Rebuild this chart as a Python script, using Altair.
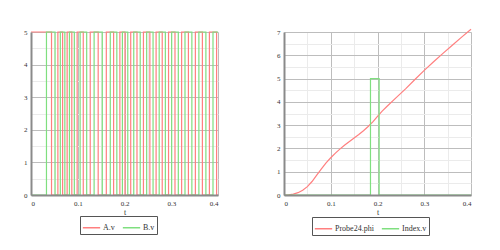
import altair as alt
import pandas as pd

# ---- data ----
# Left panel: quadrature encoder signals, toggle times (s)
a_start = 5
a_edges = [0.0439, 0.0575, 0.0676, 0.0773, 0.0873, 0.0987, 0.1118, 0.1267, 0.1437,
           0.1611, 0.1767, 0.1901, 0.2010, 0.2133, 0.2267, 0.2405, 0.2543, 0.2676,
           0.2807, 0.2942, 0.3080, 0.3222, 0.3367, 0.3516, 0.3666, 0.3816, 0.3970]
b_start = 0
b_edges = [0.0331, 0.0515, 0.0627, 0.0724, 0.0822, 0.0927, 0.1051, 0.1191, 0.1350,
           0.1525, 0.1696, 0.1836, 0.1955, 0.2070, 0.2198, 0.2336, 0.2474, 0.2611,
           0.2742, 0.2874, 0.3009, 0.3151, 0.3294, 0.3441, 0.3591, 0.3741, 0.3893]

# Right panel: angle curve and index pulse
phi_t = [0, 0.01, 0.02, 0.03, 0.04, 0.05, 0.06, 0.07, 0.08, 0.09, 0.10, 0.11, 0.12,
         0.13, 0.14, 0.15, 0.16, 0.17, 0.18, 0.19, 0.20, 0.21, 0.22, 0.24, 0.26,
         0.28, 0.30, 0.32, 0.34, 0.36, 0.38, 0.40]
phi_v = [0, 0.01, 0.04, 0.10, 0.20, 0.36, 0.58, 0.85, 1.12, 1.38, 1.60, 1.80, 1.98,
         2.15, 2.30, 2.45, 2.60, 2.76, 2.94, 3.14, 3.38, 3.60, 3.80, 4.18, 4.56,
         4.96, 5.35, 5.72, 6.08, 6.43, 6.78, 7.12]
idx_start = 0
idx_edges = [0.185, 0.2035]
HIGH = 5
T_END = 0.4

left_series = ["A.v", "B.v"]
right_series = ["Probe24.phi", "Index.v"]
RED = "#ff7f7f"
GREEN = "#7fdf7f"

X_TICKS = [0, 0.05, 0.1, 0.15, 0.2, 0.25, 0.3, 0.35, 0.4]
X_LABELS = [0, 0.1, 0.2, 0.3, 0.4]


def square(name, start, edges):
    ts, vs = [0.0], [start]
    v = start
    for e in edges:
        nv = HIGH if v == 0 else 0
        ts += [e, e]
        vs += [v, nv]
        v = nv
    ts.append(T_END)
    vs.append(v)
    return pd.DataFrame({"t": ts, "v": vs, "series": name, "i": range(len(ts))})


left_df = pd.concat([square("A.v", a_start, a_edges), square("B.v", b_start, b_edges)])
right_df = pd.concat([
    pd.DataFrame({"t": phi_t, "v": phi_v, "series": "Probe24.phi", "i": range(len(phi_t))}),
    square("Index.v", idx_start, idx_edges),
])

FONT = "Liberation Serif"
W, H = 187, 163
MAJOR = "#bdbdbd"
MINOR = "#ebebeb"


def panel(df, series, y_ticks, y_labels, lx, ly):
    xs = alt.Scale(domain=[0, 0.4], nice=False, zero=False)
    ys = alt.Scale(domain=[0, max(y_labels)], nice=False)
    grid = alt.Chart(df).mark_line(opacity=0).encode(
        x=alt.X("t:Q", scale=xs, axis=alt.Axis(
            orient="top", values=X_TICKS, labels=False, ticks=False, domain=False,
            grid=True, title=None, minExtent=0, maxExtent=0,
            gridColor={"condition": {"test": "abs(datum.value*10 - round(datum.value*10)) < 0.001",
                                     "value": MAJOR}, "value": MINOR})),
        y=alt.Y("v:Q", scale=ys, axis=alt.Axis(
            orient="right", values=y_ticks, labels=False, ticks=False, domain=False,
            grid=True, title=None, minExtent=0, maxExtent=0,
            gridColor={"condition": {"test": "abs(datum.value - round(datum.value)) < 0.001",
                                     "value": MAJOR}, "value": MINOR})),
    )
    lines = alt.Chart(df).mark_line(strokeWidth=1.2).encode(
        x=alt.X("t:Q", scale=xs, axis=alt.Axis(orient="bottom", values=X_LABELS, format="~g",
                                                grid=False, ticks=False, zindex=1,
                                                domainColor="#8a8a8a", domainWidth=2,
                                                labelFont=FONT, labelFontSize=7,
                                                labelColor="#333", labelPadding=4,
                                                title="t", titleFont=FONT, titleFontSize=8,
                                                titleFontWeight="normal", titleColor="#333",
                                                titlePadding=2)),
        y=alt.Y("v:Q", scale=ys, axis=alt.Axis(orient="left", values=y_labels, format="~g",
                                                grid=False, ticks=False, zindex=1,
                                                domainColor="#8a8a8a", domainWidth=2,
                                                labelFont=FONT, labelFontSize=7,
                                                labelColor="#333", labelPadding=4,
                                                title=None, minExtent=20, maxExtent=20)),
        color=alt.Color("series:N", sort=series,
                        scale=alt.Scale(domain=series, range=[RED, GREEN]),
                        legend=alt.Legend(title=None, orient="none", legendX=lx, legendY=ly,
                                          direction="horizontal", symbolType="stroke",
                                          symbolSize=300, symbolStrokeWidth=1.5,
                                          labelFont=FONT, labelFontSize=8,
                                          labelColor="#333", strokeColor="#555",
                                          padding=2, columnPadding=4, labelOffset=2)),
        order=alt.Order("i:Q"),
        detail="series:N",
    )
    return alt.layer(grid, lines).resolve_axis(x="independent", y="independent").properties(
        width=W, height=H)


left = panel(left_df, left_series,
             [0, 0.5, 1, 1.5, 2, 2.5, 3, 3.5, 4, 4.5, 5], [0, 1, 2, 3, 4, 5], 49, 184)
right = panel(right_df, right_series,
              [0, 0.5, 1, 1.5, 2, 2.5, 3, 3.5, 4, 4.5, 5, 5.5, 6, 6.5, 7],
              [0, 1, 2, 3, 4, 5, 6, 7], 28, 185)

chart = alt.hconcat(left, right, spacing=66, bounds="flush").resolve_scale(
    color="independent").properties(
    padding={"left": 11, "top": 26, "right": 5, "bottom": 5},
    background="white",
).configure_view(stroke=None)

chart.save("out.html", embed_options={"renderer": "svg", "actions": False})
